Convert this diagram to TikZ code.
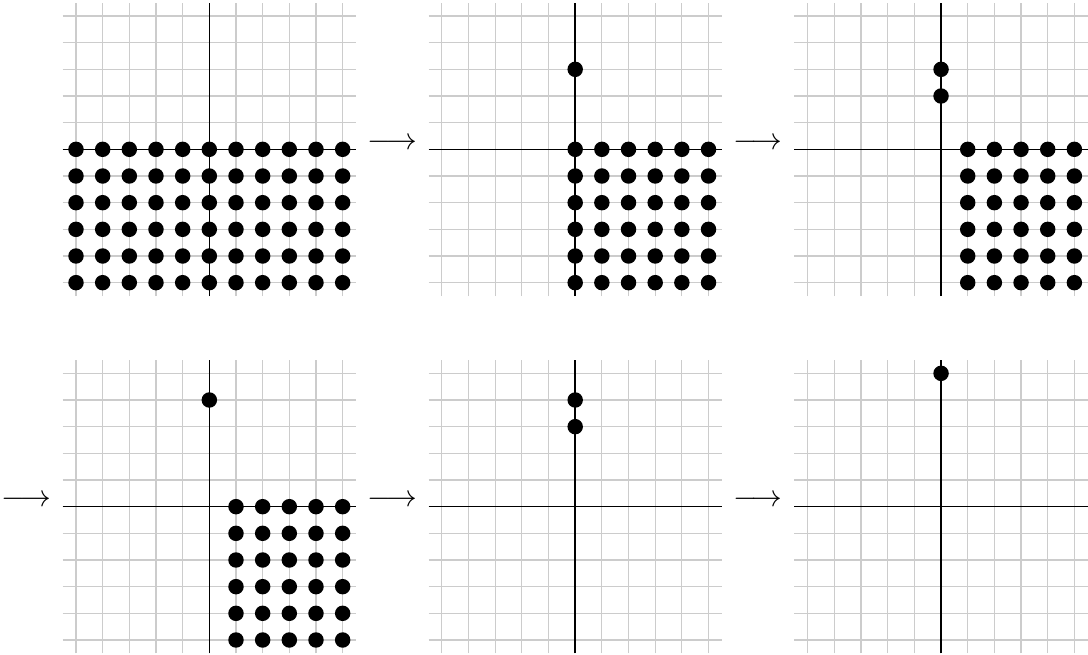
\documentclass[tikz,border=0pt]{standalone}
\begin{document}
\begin{tikzpicture}[x=0.33333cm,y=0.33333cm,
  gridline/.style={draw=black!20, line width=0.45pt},
  axisline/.style={draw=black, line width=0.5pt},
  dotfill/.style={fill=black},
  arrowlbl/.style={inner sep=0pt, anchor=base, font=\fontsize{11}{13}\selectfont},
  pics/panel/.style={code={
    \foreach \i in {-5,...,5}{
      \draw[gridline] (\i,-5.5) -- (\i,5.5);
      \draw[gridline] (-5.5,\i) -- (5.5,\i);
    }
    \draw[axisline] (-5.5,0) -- (5.5,0);
    \draw[axisline] (0,-5.5) -- (0,5.5);
  }}]
\useasboundingbox (-7.85,-18.96) rectangle (32.95,5.6);
\def\dr{0.29}
% row 1
\begin{scope}[shift={(0,0)}]
  \pic {panel};
  \foreach \x in {-5,...,5} \foreach \y in {0,-1,-2,-3,-4,-5} \fill[dotfill] (\x,\y) circle (\dr);
\end{scope}
\node[arrowlbl] (a1) at (6.85,0) {$\longrightarrow$};
\begin{scope}[shift={(13.72,0)}]
  \pic {panel};
  \fill[dotfill] (0,3) circle (\dr);
  \foreach \x in {0,...,5} \foreach \y in {0,-1,-2,-3,-4,-5} \fill[dotfill] (\x,\y) circle (\dr);
\end{scope}
\node[arrowlbl] (a2) at (20.57,0) {$\longrightarrow$};
\begin{scope}[shift={(27.44,0)}]
  \pic {panel};
  \fill[dotfill] (0,3) circle (\dr);
  \fill[dotfill] (0,2) circle (\dr);
  \foreach \x in {1,...,5} \foreach \y in {0,-1,-2,-3,-4,-5} \fill[dotfill] (\x,\y) circle (\dr);
\end{scope}
% row 2
\node[arrowlbl] (a3) at (-6.85,-13.4) {$\longrightarrow$};
\begin{scope}[shift={(0,-13.4)}]
  \pic {panel};
  \fill[dotfill] (0,4) circle (\dr);
  \foreach \x in {1,...,5} \foreach \y in {0,-1,-2,-3,-4,-5} \fill[dotfill] (\x,\y) circle (\dr);
\end{scope}
\node[arrowlbl] (a4) at (6.85,-13.4) {$\longrightarrow$};
\begin{scope}[shift={(13.72,-13.4)}]
  \pic {panel};
  \fill[dotfill] (0,4) circle (\dr);
  \fill[dotfill] (0,3) circle (\dr);
\end{scope}
\node[arrowlbl] (a5) at (20.57,-13.4) {$\longrightarrow$};
\begin{scope}[shift={(27.44,-13.4)}]
  \pic {panel};
  \fill[dotfill] (0,5) circle (\dr);
\end{scope}
\end{tikzpicture}
\end{document}
